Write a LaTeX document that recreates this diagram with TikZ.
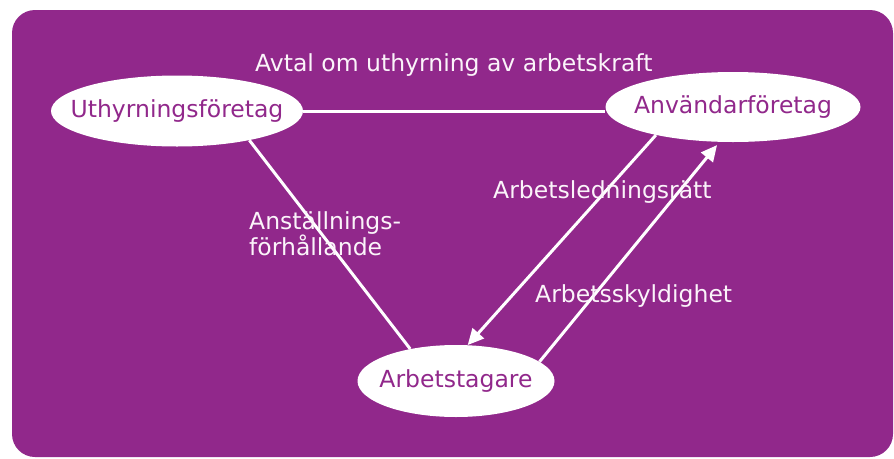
\documentclass[tikz,border=0pt]{standalone}
\usepackage{fontspec}
\setmainfont{DejaVu Sans}
\usetikzlibrary{shapes.geometric,arrows.meta}
\definecolor{bgpurple}{HTML}{91288B}
\definecolor{labelwhite}{HTML}{FBF4FA}
\newcommand{\fixedtext}[1]{\makebox[0pt]{#1}}
\tikzset{
  actor/.style={ellipse, fill=white, draw=none, inner sep=0pt, text=bgpurple,
    font=\fontsize{23.5}{27}\selectfont},
  rel/.style={draw=white, line width=3pt},
  relarrow/.style={rel, -{Triangle[length=16pt,width=15pt]}},
  lbl/.style={inner sep=0pt, text=labelwhite, font=\fontsize{23.5}{25}\selectfont}
}
\begin{document}
\begin{tikzpicture}[x=1pt,y=-1pt]
\useasboundingbox (0,0) rectangle (894,458);
\fill[bgpurple, rounded corners=23pt] (12,10) rectangle (893,457);

\node[actor, minimum width=252pt, minimum height=71pt] (u) at (177,111) {\fixedtext{Uthyrningsföretag}};
\node[actor, minimum width=255pt, minimum height=70pt] (a) at (733,107) {\fixedtext{Användarföretag}};
\node[actor, minimum width=197pt, minimum height=72pt] (t) at (456,381) {\fixedtext{Arbetstagare}};

\draw[rel] (u.east |- 0,111) coordinate (ue) -- (a.west |- 0,111) coordinate (aw);
\draw[rel] (u.-22) -- (t.145);
\draw[relarrow] (a.200) -- (t.72);
\draw[relarrow, shorten >=4pt] (t.13) -- (a.249);

\node[lbl, anchor=base west] (l1) at (255,71) {Avtal om uthyrning av arbetskraft};
\node[lbl, anchor=base west] (l2) at (493,198) {Arbetsledningsrätt};
\node[lbl, anchor=base west] (l3) at (535,302) {Arbetsskyldighet};
\node[lbl, anchor=north west, align=left] (l4) at (249,211) {Anställnings-\\förhållande};
\end{tikzpicture}
\end{document}
